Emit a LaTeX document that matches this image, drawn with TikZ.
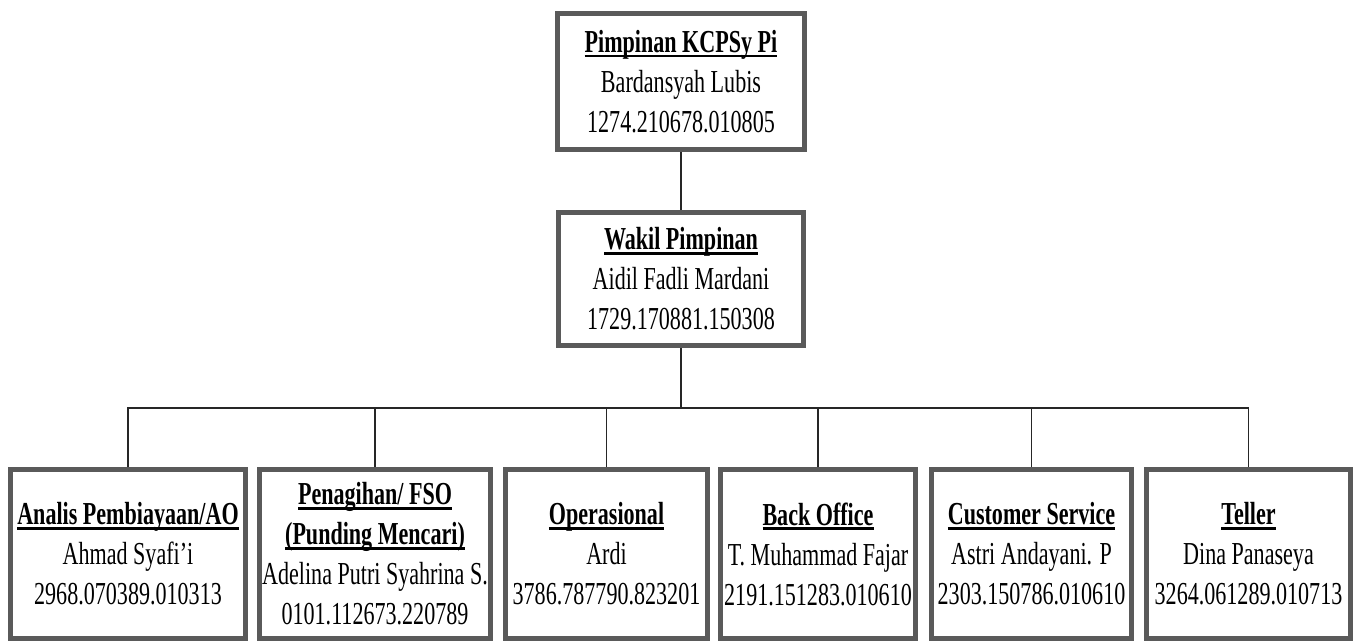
\documentclass[tikz,border=0pt]{standalone}
\usepackage{fontspec}
\setmainfont[FakeStretch=0.69]{Liberation Serif}
\newcommand\ulttl[1]{\setbox0\hbox{\bfseries #1}\rlap{\rule[-5pt]{\wd0}{2.6pt}}\box0}
\definecolor{boxgray}{RGB}{90,90,90}
\tikzset{
  orgbox/.style={draw=boxgray, line width=5pt, fill=white, inner sep=0pt,
    align=center, font=\fontsize{32}{40}\selectfont},
  conn/.style={draw=black!85, line width=1.8pt}
}
\begin{document}
\begin{tikzpicture}[x=1pt,y=-1pt]
\useasboundingbox (0,0) rectangle (1359,642);
\node[orgbox, minimum width=247pt, minimum height=136pt] (top) at (681,81.5)
  {\ulttl{Pimpinan KCPSy Pi}\\Bardansyah Lubis\\1274.210678.010805};
\node[orgbox, minimum width=245pt, minimum height=133pt] (mid) at (681,279)
  {\ulttl{Wakil Pimpinan}\\Aidil Fadli Mardani\\1729.170881.150308};
\coordinate (bus) at (681,408);
\node[orgbox, minimum width=235pt, minimum height=169pt] (b1) at (128,554)
  {\ulttl{Analis Pembiayaan/AO}\\Ahmad Syafi'i\\2968.070389.010313};
\node[orgbox, minimum width=231pt, minimum height=169pt] (b2) at (375,554)
  {\ulttl{Penagihan/ FSO}\\\ulttl{(Punding Mencari)}\\Adelina Putri Syahrina S.\\0101.112673.220789};
\node[orgbox, minimum width=202pt, minimum height=169pt] (b3) at (606.5,554)
  {\ulttl{Operasional}\\Ardi\\3786.787790.823201};
\node[orgbox, minimum width=195pt, minimum height=169pt] (b4) at (818,554)
  {\ulttl{Back Office}\\T. Muhammad Fajar\\2191.151283.010610};
\node[orgbox, minimum width=200pt, minimum height=169pt] (b5) at (1031.5,554)
  {\ulttl{Customer Service}\\Astri Andayani. P\\2303.150786.010610};
\node[orgbox, minimum width=204pt, minimum height=169pt] (b6) at (1248.5,554)
  {\ulttl{Teller}\\Dina Panaseya\\3264.061289.010713};
\begin{scope}[on background layer/.style={}]
\end{scope}
\draw[conn] (top.south) -- (mid.north);
\draw[conn] (mid.south) -- (bus);
\draw[conn, line cap=rect] (b1.north |- bus) -- (b6.north |- bus);
\foreach \b in {b1,b2,b3,b4,b5,b6} \draw[conn] (\b.north) -- (\b.north |- bus);
\end{tikzpicture}
\end{document}
